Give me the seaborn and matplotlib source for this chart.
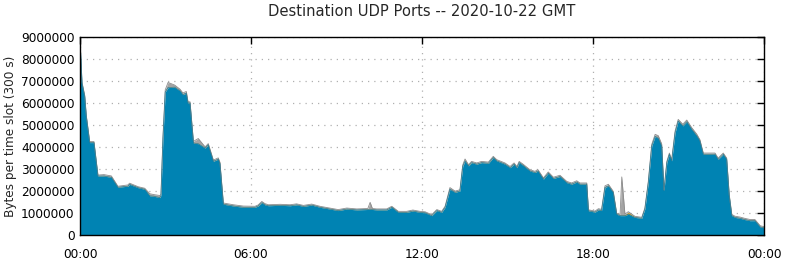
import numpy as np
import pandas as pd
import matplotlib
matplotlib.use("Agg")
import matplotlib.pyplot as plt
import seaborn as sns
from matplotlib.ticker import FuncFormatter, MultipleLocator

title = "Destination UDP Ports -- 2020-10-22 GMT"
ylabel = "Bytes per time slot (300 s)"
xtick_hours = [0, 6, 12, 18, 24]
xtick_labels = ["00:00", "06:00", "12:00", "18:00", "00:00"]

# time of day in hours
hours = [0.0, 0.02, 0.07, 0.165, 0.22, 0.34, 0.49, 0.63, 0.84, 1.10, 1.33, 1.68, 1.74, 2.04, 2.27,
         2.45, 2.60, 2.80, 2.84, 2.91, 2.99, 3.09, 3.32, 3.51, 3.61, 3.73, 3.79, 3.86, 3.98, 4.15,
         4.39, 4.50, 4.68, 4.85, 4.91, 5.03, 5.38, 5.73, 6.14, 6.25, 6.38, 6.49, 6.61, 7.02, 7.37,
         7.60, 7.84, 8.13, 8.42, 8.77, 9.06, 9.36, 9.71, 10.10, 10.18, 10.26, 10.41, 10.76, 10.94, 11.17,
         11.46, 11.68, 11.93, 12.11, 12.34, 12.52, 12.69, 12.81, 12.98, 13.16, 13.33, 13.43, 13.51, 13.63, 13.74,
         13.92, 14.09, 14.33, 14.50, 14.62, 14.91, 15.09, 15.23, 15.33, 15.41, 15.55, 15.79, 15.96, 16.07, 16.26,
         16.43, 16.61, 16.84, 17.08, 17.25, 17.43, 17.54, 17.78, 17.84, 18.07, 18.19, 18.30, 18.42, 18.54, 18.71,
         18.83, 18.95, 19.01, 19.12, 19.24, 19.47, 19.71, 19.82, 19.94, 20.06, 20.18, 20.29, 20.41, 20.49, 20.59,
         20.68, 20.76, 20.88, 20.99, 21.15, 21.29, 21.46, 21.64, 21.75, 21.87, 22.28, 22.39, 22.57, 22.69, 22.78,
         22.87, 22.98, 23.16, 23.33, 23.51, 23.68, 23.87, 24.0]

# main (blue) series, millions of bytes per slot
main_mb = [8.2, 8.3, 6.9, 6.3, 5.4, 4.2, 4.2, 2.68, 2.68, 2.62, 2.17, 2.22, 2.3, 2.15, 2.08,
           1.78, 1.76, 1.70, 1.80, 4.4, 6.5, 6.7, 6.72, 6.55, 6.38, 6.45, 6.0, 6.0, 4.18, 4.15,
           3.95, 4.1, 3.35, 3.45, 3.25, 1.4, 1.32, 1.26, 1.26, 1.32, 1.47, 1.37, 1.33, 1.35, 1.33,
           1.37, 1.30, 1.36, 1.26, 1.18, 1.11, 1.18, 1.14, 1.16, 1.17, 1.16, 1.14, 1.14, 1.26, 1.03,
           1.03, 1.09, 1.03, 1.01, 0.88, 1.11, 1.03, 1.26, 2.08, 1.94, 2.0, 3.13, 3.36, 3.14, 3.29,
           3.22, 3.29, 3.26, 3.52, 3.37, 3.22, 3.06, 3.22, 3.06, 3.29, 3.16, 2.91, 2.84, 2.91, 2.54,
           2.81, 2.57, 2.66, 2.38, 2.31, 2.41, 2.31, 2.31, 1.10, 1.04, 1.14, 1.11, 2.16, 2.23, 1.93,
           0.95, 0.88, 0.88, 0.88, 0.95, 0.80, 0.76, 1.18, 2.38, 4.04, 4.48, 4.40, 4.04, 2.01, 3.29,
           3.67, 3.37, 4.65, 5.18, 4.96, 5.15, 4.81, 4.51, 4.28, 3.67, 3.67, 3.44, 3.67, 3.44, 1.78,
           0.88, 0.80, 0.76, 0.70, 0.65, 0.65, 0.36, 0.33]

# thin orange layer on top of the main series
orange_mb = [0.015] * 106 + [0.02, 0.02, 0.04, 0.08, 0.02] + [0.015] * 32

# grey layer on top of that
grey_mb = [0.03, 0.03, 0.03, 0.03, 0.03, 0.03, 0.03, 0.03, 0.05, 0.05, 0.03, 0.04, 0.04, 0.03, 0.03,
           0.08, 0.06, 0.08, 0.03, 0.03, 0.08, 0.22, 0.08, 0.06, 0.06, 0.06, 0.04, 0.04, 0.06, 0.22,
           0.04, 0.04, 0.04, 0.04, 0.04, 0.04, 0.04, 0.04, 0.03, 0.03, 0.04, 0.04, 0.03, 0.03, 0.03,
           0.03, 0.03, 0.03, 0.03, 0.03, 0.03, 0.03, 0.03, 0.03, 0.30, 0.03, 0.03, 0.03, 0.03, 0.03,
           0.03, 0.03, 0.03, 0.03, 0.03, 0.03, 0.03, 0.03, 0.06, 0.04, 0.04, 0.04, 0.08, 0.04, 0.04,
           0.04, 0.04, 0.04, 0.04, 0.04, 0.04, 0.04, 0.04, 0.04, 0.04, 0.04, 0.04, 0.04, 0.04, 0.04,
           0.04, 0.04, 0.04, 0.04, 0.04, 0.04, 0.04, 0.04, 0.03, 0.03, 0.04, 0.04, 0.06, 0.06, 0.04,
           0.03, 0.03, 1.74, 0.03, 0.03, 0.03, 0.03, 0.03, 0.04, 0.06, 0.08, 0.10, 0.08, 0.03, 0.04,
           0.04, 0.04, 0.06, 0.06, 0.06, 0.06, 0.06, 0.06, 0.04, 0.04, 0.04, 0.04, 0.04, 0.04, 0.04,
           0.04, 0.04, 0.04, 0.04, 0.04, 0.04, 0.04, 0.04]

df = pd.DataFrame({"hour": hours,
                   "main": np.array(main_mb) * 1e6,
                   "orange": np.array(orange_mb) * 1e6,
                   "grey": np.array(grey_mb) * 1e6})
df["lvl1"] = df["main"]
df["lvl2"] = df["lvl1"] + df["orange"]
df["lvl3"] = df["lvl2"] + df["grey"]

sns.set_theme(style="white")
plt.rcParams["font.family"] = ["DejaVu Sans"]

fig = plt.figure(figsize=(7.86, 2.60), dpi=100)
ax = fig.add_axes([80 / 786, 25 / 260, 684 / 786, 198 / 260])

ax.fill_between(df["hour"], df["lvl2"], df["lvl3"], color="#a4a4a4", lw=0, zorder=2)
ax.fill_between(df["hour"], df["lvl1"], df["lvl2"], color="#d89a10", lw=0, zorder=2)
ax.fill_between(df["hour"], 0, df["lvl1"], color="#0083b3", lw=0, zorder=3)
sns.lineplot(data=df, x="hour", y="lvl3", ax=ax, color="#8c8c8c", lw=0.6, zorder=4)
sns.lineplot(data=df, x="hour", y="lvl1", ax=ax, color="#2a7a92", lw=0.5, zorder=4)

ax.set_xlim(0, 24)
ax.set_ylim(0, 9e6)
ax.set_xticks(xtick_hours)
ax.set_xticklabels(xtick_labels)
ax.yaxis.set_major_locator(MultipleLocator(1e6))
ax.yaxis.set_major_formatter(FuncFormatter(lambda v, p: f"{int(round(v))}"))

ax.grid(True, color="#b0b0b0", linestyle=(0, (1, 4)), lw=0.9, zorder=1)
ax.set_axisbelow(True)
for s in ax.spines.values():
    s.set_color("black")
    s.set_linewidth(1.0)
    s.set_zorder(6)

ax.tick_params(axis="both", which="both", direction="in", length=5, width=1,
               colors="black", labelsize=8.7, top=True, right=True,
               labelcolor="black")
ax.tick_params(axis="x", pad=9)
ax.tick_params(axis="y", pad=4)
ax.set_xlabel("")
ax.set_ylabel(ylabel, fontsize=8.7, labelpad=3)
fig.suptitle(title, fontsize=10.6, x=422 / 786, y=0.985, va="top")

fig.savefig("out.png", dpi=100)
